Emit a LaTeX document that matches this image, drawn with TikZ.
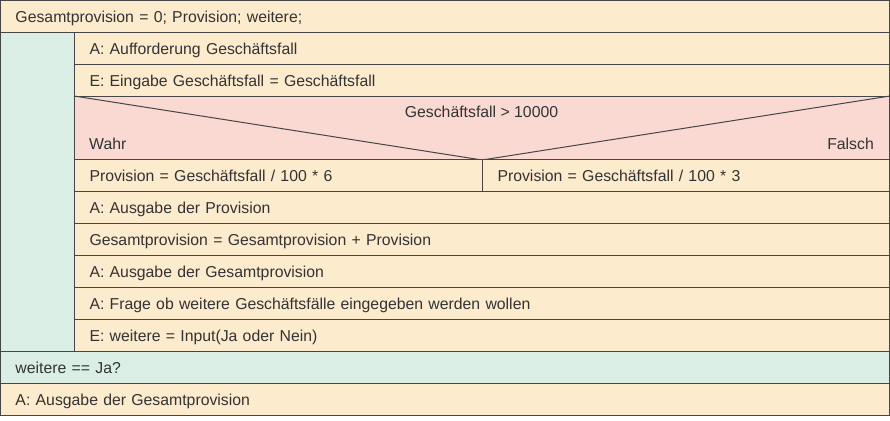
\documentclass[tikz,border=0pt]{standalone}
\usepackage{fontspec}
\setmainfont{Liberation Sans}
\definecolor{cream}{RGB}{253,235,206}
\definecolor{mint}{RGB}{218,238,230}
\definecolor{rose}{RGB}{250,217,211}
\definecolor{edge}{RGB}{70,70,70}
\definecolor{ink}{RGB}{51,51,51}
\begin{document}
\begin{tikzpicture}[x=1pt,y=-1pt,
  every node/.style={font=\fontsize{15.8}{18}\selectfont, text=ink,
    text height=12.5pt, text depth=1pt},
  box/.style={draw=edge, line width=1pt, anchor=north west, inner xsep=15pt,
    inner ysep=0pt, align=left, minimum height=32pt},
  stmt/.style={box, fill=cream},
  full/.style={minimum width=889pt, text width=859pt},
  inner/.style={minimum width=815pt, text width=785pt},
  lbl/.style={inner sep=0pt}]
  \useasboundingbox (0,0) rectangle (890,420);

  % loop body background
  \node[box, fill=mint, minimum width=889pt, minimum height=351pt] (loop) at (0,32) {};

  % declarations
  \node[stmt, full] (decl) at (0,0) {Gesamtprovision = 0; Provision; weitere;};

  % statements inside the loop
  \node[stmt, inner] (ask) at (74,32) {A: Aufforderung Geschäftsfall};
  \node[stmt, inner] (input) at (74,64) {E: Eingabe Geschäftsfall = Geschäftsfall};

  % decision
  \node[box, fill=rose, minimum width=815pt, minimum height=63pt] (dec) at (74,96) {};
  \coordinate (split) at (dec.south);
  \draw[edge, line width=1pt] (dec.north west) -- (split) -- (dec.north east);
  \node[lbl, anchor=center] (cond) at (481.5,112) {Geschäftsfall > 10000};
  \node[lbl, anchor=west] (yes) at (89,144) {Wahr};
  \node[lbl, anchor=east] (no) at (874,144) {Falsch};

  \node[stmt, minimum width=408pt, text width=378pt] (prov6) at (74,159) {Provision = Geschäftsfall / 100 * 6};
  \node[stmt, minimum width=407pt, text width=377pt] (prov3) at (482,159) {Provision = Geschäftsfall / 100 * 3};

  \node[stmt, inner] (out1) at (74,191) {A: Ausgabe der Provision};
  \node[stmt, inner] (sum) at (74,223) {Gesamtprovision = Gesamtprovision + Provision};
  \node[stmt, inner] (out2) at (74,255) {A: Ausgabe der Gesamtprovision};
  \node[stmt, inner] (more) at (74,287) {A: Frage ob weitere Geschäftsfälle eingegeben werden wollen};
  \node[stmt, inner] (read) at (74,319) {E: weitere = Input(Ja oder Nein)};

  % loop condition
  \node[box, fill=mint, full] (until) at (0,351) {weitere == Ja?};

  % final output
  \node[stmt, full] (final) at (0,383) {A: Ausgabe der Gesamtprovision};
\end{tikzpicture}
\end{document}
